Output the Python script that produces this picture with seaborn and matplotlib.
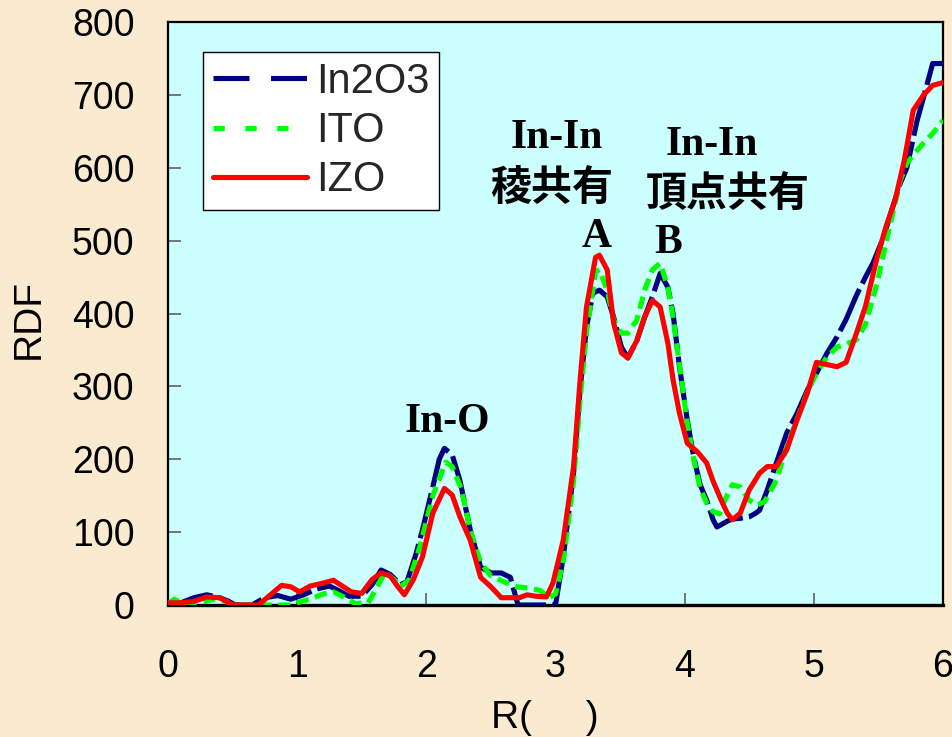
import matplotlib
matplotlib.use("Agg")
import matplotlib.pyplot as plt
from matplotlib.lines import Line2D
import seaborn as sns

# ---------------- data ----------------
in2o3_r = [0.00, 0.10, 0.20, 0.30, 0.40, 0.47, 0.52, 0.65, 0.75, 0.85, 0.95, 1.05, 1.15, 1.25,
           1.32, 1.40, 1.50, 1.58, 1.65, 1.72, 1.80, 1.85, 1.92, 1.97, 2.05, 2.10, 2.14, 2.20,
           2.26, 2.34, 2.42, 2.50, 2.58, 2.65, 2.71, 3.00, 3.06, 3.14, 3.19, 3.24, 3.29, 3.34,
           3.40, 3.45, 3.51, 3.56, 3.63, 3.69, 3.75, 3.81, 3.87, 3.91, 3.96, 4.02, 4.07, 4.12,
           4.17, 4.22, 4.25, 4.30, 4.33, 4.37, 4.43, 4.50, 4.55, 4.58, 4.64, 4.71, 4.79, 4.87,
           4.95, 5.02, 5.10, 5.18, 5.25, 5.33, 5.40, 5.46, 5.54, 5.61, 5.67, 5.72, 5.80, 5.85,
           5.92, 6.00]
in2o3_g = [0, 3, 10, 14, 10, 5, 0, 0, 10, 13, 8, 14, 22, 26,
           20, 12, 12, 28, 48, 42, 28, 32, 70, 103, 162, 200, 215, 206,
           171, 103, 52, 44, 44, 38, 0, 0, 66, 181, 295, 381, 428, 432,
           423, 395, 354, 339, 363, 395, 423, 455, 436, 400, 327, 254, 203, 165,
           144, 117, 107, 112, 115, 118, 119, 121, 126, 130, 158, 195, 236, 263,
           295, 318, 345, 368, 392, 425, 450, 470, 505, 546, 579, 600, 665, 697,
           743, 743]

ito_r = [0.00, 0.05, 0.10, 0.25, 0.35, 0.45, 0.50, 0.95, 1.00, 1.10, 1.20, 1.28, 1.35, 1.45,
         1.55, 1.62, 1.68, 1.75, 1.80, 1.87, 1.95, 2.05, 2.15, 2.20, 2.27, 2.34, 2.42, 2.50,
         2.60, 2.70, 2.80, 2.88, 2.95, 3.00, 3.06, 3.14, 3.19, 3.24, 3.31, 3.34, 3.40, 3.45,
         3.51, 3.56, 3.63, 3.69, 3.75, 3.81, 3.87, 3.91, 3.96, 4.02, 4.07, 4.12, 4.17, 4.22,
         4.27, 4.30, 4.37, 4.43, 4.50, 4.56, 4.62, 4.71, 4.79, 4.87, 4.95, 5.02, 5.10, 5.18,
         5.25, 5.33, 5.40, 5.49, 5.55, 5.61, 5.67, 5.72, 5.78, 5.85, 5.92, 6.00]
ito_g = [2, 8, 3, 3, 8, 5, 0, 0, 3, 8, 15, 18, 12, 2,
         3, 25, 45, 35, 25, 35, 80, 150, 196, 190, 160, 103, 58, 40,
         32, 25, 23, 20, 10, 15, 60, 170, 280, 375, 457, 460, 432, 391,
         373, 373, 391, 432, 460, 469, 436, 395, 330, 250, 200, 160, 140, 128,
         125, 140, 165, 162, 144, 137, 142, 171, 217, 255, 292, 318, 340, 354,
         358, 364, 385, 442, 490, 537, 583, 606, 620, 634, 647, 665]

izo_r = [0.00, 0.10, 0.20, 0.30, 0.40, 0.50, 0.70, 0.80, 0.88, 0.95, 1.02, 1.10, 1.20, 1.28,
         1.35, 1.42, 1.50, 1.58, 1.65, 1.72, 1.78, 1.83, 1.90, 1.97, 2.05, 2.14, 2.20, 2.26,
         2.34, 2.42, 2.50, 2.58, 2.65, 2.72, 2.78, 2.85, 2.93, 2.98, 3.06, 3.14, 3.19, 3.24,
         3.31, 3.34, 3.40, 3.45, 3.51, 3.56, 3.63, 3.69, 3.75, 3.81, 3.87, 3.91, 3.96, 4.02,
         4.10, 4.17, 4.22, 4.28, 4.33, 4.37, 4.43, 4.50, 4.58, 4.64, 4.71, 4.79, 4.87, 4.95,
         5.02, 5.10, 5.18, 5.25, 5.33, 5.40, 5.49, 5.56, 5.63, 5.70, 5.77, 5.85, 5.92, 6.00]
izo_g = [3, 3, 5, 11, 10, 0, 0, 15, 27, 25, 18, 26, 30, 34,
         26, 18, 16, 35, 44, 40, 25, 14, 35, 66, 126, 160, 151, 121,
         89, 38, 25, 10, 10, 10, 14, 12, 11, 30, 89, 190, 308, 409,
         477, 480, 460, 387, 346, 339, 363, 395, 418, 409, 359, 309, 263, 222,
         210, 195, 170, 145, 126, 117, 126, 158, 181, 190, 190, 213, 254, 291,
         333, 330, 327, 333, 373, 410, 477, 520, 556, 610, 679, 700, 713, 717]

series_names = ["In2O3", "ITO", "IZO"]
x_ticks = [0, 1, 2, 3, 4, 5, 6]
y_ticks = [0, 100, 200, 300, 400, 500, 600, 700, 800]

# ---------------- style ----------------
sns.set_theme(style="ticks")
plt.rcParams['font.family'] = ['Liberation Sans', 'DejaVu Sans']

BG = "#FAEBD0"
fig = plt.figure(figsize=(9.53, 7.37), dpi=100, facecolor=BG)
ax = fig.add_axes([168 / 953, 1 - 605 / 737, 775 / 953, 583 / 737])
ax.set_facecolor("#CCFFFF")

navy, green, red = "#000080", "#00FF00", "#FF0000"
lw = 3.7

sns.lineplot(x=in2o3_r, y=in2o3_g, ax=ax, color=navy, lw=lw, estimator=None, sort=False,
             linestyle=(0, (9, 1.2)), zorder=3)
sns.lineplot(x=ito_r, y=ito_g, ax=ax, color=green, lw=lw, estimator=None, sort=False,
             linestyle=(0, (2.4, 1.3)), zorder=4)
sns.lineplot(x=izo_r, y=izo_g, ax=ax, color=red, lw=lw, estimator=None, sort=False,
             zorder=5)

ax.set_xlim(0, 6)
ax.set_ylim(0, 800)
ax.set_xticks(x_ticks)
ax.set_yticks(y_ticks)
ax.tick_params(axis='both', direction='in', length=9, width=1.2, color='#606060',
               labelsize=27, labelcolor='black')
ax.tick_params(axis='y', pad=24)
ax.tick_params(axis='x', pad=32)

for s in ["left", "top", "right"]:
    ax.spines[s].set_color("black")
    ax.spines[s].set_linewidth(1.6)
ax.spines["bottom"].set_color("black")
ax.spines["bottom"].set_linewidth(2.4)

ax.set_xlabel("R(     )", fontsize=28, color='black')
ax.set_ylabel("RDF", fontsize=28, color='black')
ax.xaxis.set_label_coords(0.486, -0.163)
ax.yaxis.set_label_coords(-0.157, 0.49)

# legend
handles = [
    Line2D([], [], color=navy, lw=lw, linestyle=(0, (7, 4.2))),
    Line2D([], [], color=green, lw=lw, linestyle=(0, (2.2, 4.0))),
    Line2D([], [], color=red, lw=lw),
]
leg = ax.legend(handles, series_names, loc='upper left', bbox_to_anchor=(0.045, 0.9485),
                borderaxespad=0, fontsize=30, frameon=True, fancybox=False, framealpha=1,
                edgecolor='black', facecolor='white', handlelength=2.25, handletextpad=0.22,
                labelspacing=0.22, borderpad=0.24)
leg.get_frame().set_linewidth(1.0)

# annotations
serif = dict(family=['Liberation Serif', 'DejaVu Serif'], fontweight='bold', fontsize=30,
             ha='center', va='center', color='black')
cjk = dict(family=['Noto Sans CJK JP', 'DejaVu Sans'], fontweight='bold', fontsize=29.5,
           ha='center', va='center', color='black')
ax.text(2.16, 251, "In-O", **serif)
ax.text(3.01, 641, "In-In", **serif)
ax.text(2.97, 572, "稜共有", **cjk)
ax.text(3.32, 505, "A", **serif)
ax.text(4.21, 631, "In-In", **serif)
ax.text(4.33, 562, "頂点共有", **cjk)
ax.text(3.87, 497, "B", **serif)

fig.savefig("out.png", dpi=100, facecolor=BG)
